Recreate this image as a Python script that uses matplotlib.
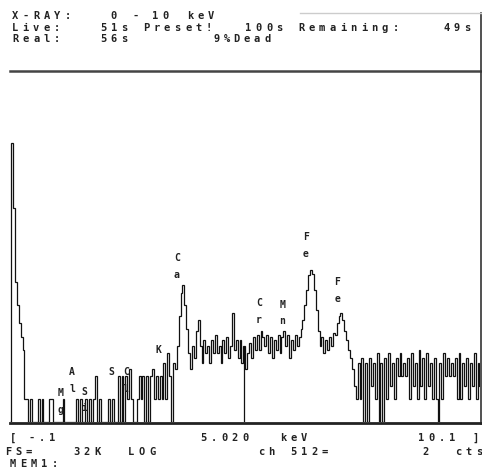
import numpy as np
from matplotlib import pyplot as plt

# EDS spectrum, 0.04 keV per channel, counts per channel (log display)
ch_width = 0.04
counts = [0, 0, 0, 4700, 650, 70, 35, 20, 13, 9,
          2, 2, 0, 2, 0, 0, 0, 2, 0, 2,
          0, 0, 0, 2, 2, 0, 0, 0, 0, 0,
          2, 0, 0, 0, 0, 0, 0, 2, 0, 2,
          0, 0, 2, 0, 2, 0, 2, 4, 0, 2,
          0, 0, 0, 0, 2, 0, 2, 0, 0, 4,
          0, 4, 0, 4, 2, 5, 2, 0, 0, 2,
          4, 2, 4, 0, 4, 0, 4, 5, 2, 4,
          2, 4, 2, 6, 2, 8, 4, 0, 6, 5,
          10, 25, 50, 63, 35, 17, 8, 5, 10, 7,
          16, 22, 10, 6, 12, 8, 10, 6, 12, 8,
          14, 8, 10, 6, 12, 8, 13, 7, 10, 27,
          9, 12, 7, 12, 6, 10, 5, 8, 11, 7,
          13, 9, 14, 9, 16, 13, 10, 14, 8, 13,
          7, 12, 9, 14, 8, 13, 16, 10, 14, 7,
          12, 9, 14, 10, 13, 17, 22, 35, 55, 85,
          100, 90, 55, 30, 16, 10, 13, 8, 12, 9,
          13, 10, 15, 14, 20, 25, 27, 22, 16, 12,
          9, 7, 5, 3, 2, 6, 2, 7, 0, 6,
          0, 7, 3, 6, 2, 8, 0, 6, 0, 7,
          2, 8, 3, 6, 2, 7, 4, 8, 4, 6,
          4, 7, 2, 8, 3, 6, 2, 9, 3, 7,
          2, 8, 3, 6, 2, 7, 2, 0, 6, 2,
          8, 4, 7, 4, 6, 4, 7, 2, 8, 2,
          6, 3, 7, 2, 6, 3, 8, 2, 6, 3]

cursor_kev = 5.020

# element markers: name, line energy (keV), label height (counts)
elements = ['Mg', 'Al', 'Si', 'S', 'Cl', 'K', 'Ca', 'Cr', 'Mn', 'Fe', 'Fe']
line_kev = [1.25, 1.49, 1.74, 2.31, 2.62, 3.31, 3.69, 5.41, 5.90, 6.40, 7.06]
label_cts = [2.4, 4.5, 2.5, 4.5, 4.5, 8.9, 143, 37, 35, 270, 70]

header = [
    [(12, 'X-RAY:'), (110, '0'), (133, '-'), (152, '10'), (187, 'keV')],
    [(12, 'Live:'), (100, '51s'), (143, 'Preset!'), (245, '100s'),
     (298, 'Remaining:'), (443, '49s')],
    [(12, 'Real:'), (100, '56s'), (213, '9%'), (233, 'Dead')],
]
footer = [
    [(10, '['), (28, '-.1'), (200, '5.020'), (280, 'keV'), (418, '10.1'), (472, ']')],
    [(5, 'FS='), (73, '32K'), (128, 'LOG'), (258, 'ch'), (290, '512='),
     (422, '2'), (455, 'cts')],
    [(10, 'MEM1:')],
]
header_rows = [16, 27.5, 39]
footer_rows = [438, 452, 464]

W, H = 482, 474
fig = plt.figure(figsize=(W / 100, H / 100), dpi=100)
fig.patch.set_facecolor('white')

# spectrum area (pixel box 10..480 x 79..422)
ax = fig.add_axes([10 / W, (H - 422) / H, 470 / W, (422 - 79) / H])
ax.set_yscale('log')
ax.set_ylim(1, 32768)
ax.set_xlim(0.0966, 9.971)
ax.axis('off')

vals = np.maximum(np.array(counts, dtype=float), 1)
edges = np.arange(len(vals) + 1) * ch_width
ax.stairs(vals, edges, baseline=1, color='#111111', lw=0.9)

cur_i = int(cursor_kev / ch_width)
ax.vlines(cursor_kev, 1, vals[cur_i], color='#111111', lw=0.9)

for name, e, h in zip(elements, line_kev, label_cts):
    ax.annotate(name[0], (e, h), xytext=(-3, 0), textcoords='offset points',
                ha='center', va='center', fontsize=7, family='DejaVu Sans Mono',
                fontweight='bold', color='#222222')
    if len(name) > 1:
        ax.annotate(name[1], (e, h), xytext=(-3, -12), textcoords='offset points',
                    ha='center', va='center', fontsize=7, family='DejaVu Sans Mono',
                    fontweight='bold', color='#222222')

# overlay in pixel coordinates for the frame and screen text
ov = fig.add_axes([0, 0, 1, 1])
ov.set_xlim(0, W)
ov.set_ylim(H, 0)
ov.axis('off')
ov.patch.set_alpha(0)

ov.plot([10, 481], [71, 71], color='#444444', lw=1.8)
ov.plot([480.5, 480.5], [13, 424], color='#333333', lw=1.2)
ov.plot([300, 481], [13, 13], color='#cccccc', lw=1)
ov.plot([10, 481], [423, 423], color='#222222', lw=2)

cw = 10.5


def draw_token(x, y, s):
    for k, ch in enumerate(s):
        ov.text(x + k * cw, y, ch, ha='left', va='center', fontsize=7.5,
                family='DejaVu Sans Mono', fontweight='bold', color='#222222')


for row_y, row in zip(header_rows, header):
    for x, s in row:
        draw_token(x, row_y, s)
for row_y, row in zip(footer_rows, footer):
    for x, s in row:
        draw_token(x, row_y, s)

plt.savefig('out.png', dpi=100)
print('Complete')
